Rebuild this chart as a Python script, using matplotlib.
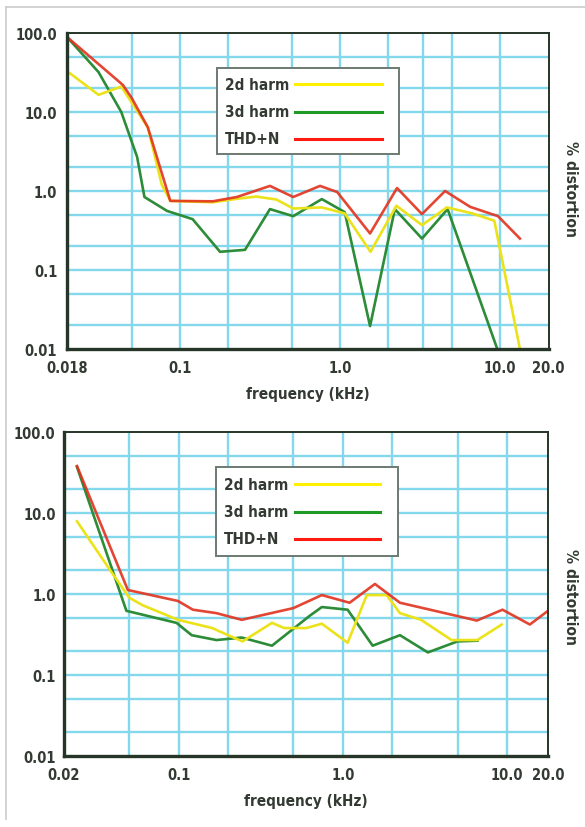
import matplotlib
matplotlib.use("Agg")
import matplotlib.pyplot as plt
from matplotlib.lines import Line2D
from matplotlib.patches import Rectangle

# ---------------- data ----------------
legend_labels = ["2d harm", "3d harm", "THD+N"]

# top panel
f_top_2d = [0.0205, 0.031, 0.043, 0.063, 0.077, 0.087, 0.16, 0.23, 0.30, 0.40, 0.51, 0.77, 1.07, 1.55, 2.25, 3.25, 4.65, 6.7, 9.2, 13.3]
v_top_2d = [31, 16.5, 21, 6.4, 1.2, 0.75, 0.72, 0.8, 0.85, 0.78, 0.6, 0.62, 0.52, 0.17, 0.65, 0.37, 0.62, 0.52, 0.42, 0.01]

f_top_3d = [0.0197, 0.031, 0.043, 0.054, 0.060, 0.083, 0.12, 0.178, 0.255, 0.365, 0.51, 0.77, 1.07, 1.54, 2.2, 3.25, 4.7, 9.6]
v_top_3d = [89, 32, 10, 2.7, 0.84, 0.56, 0.44, 0.17, 0.18, 0.59, 0.48, 0.79, 0.54, 0.0195, 0.59, 0.25, 0.59, 0.01]

f_top_thd = [0.0197, 0.044, 0.05, 0.063, 0.087, 0.16, 0.227, 0.365, 0.51, 0.75, 0.96, 1.54, 2.27, 3.25, 4.53, 6.5, 9.7, 13.3]
v_top_thd = [89, 22, 15, 6.4, 0.75, 0.74, 0.84, 1.16, 0.84, 1.16, 0.97, 0.29, 1.09, 0.51, 1.0, 0.63, 0.48, 0.25]

# bottom panel
f_bot_2d = [0.024, 0.038, 0.05, 0.06, 0.099, 0.16, 0.2, 0.245, 0.37, 0.44, 0.6, 0.745, 1.07, 1.4, 1.85, 2.23, 3.0, 4.6, 6.6, 9.3]
v_bot_2d = [7.9, 2.0, 0.9, 0.73, 0.48, 0.38, 0.31, 0.26, 0.44, 0.38, 0.38, 0.43, 0.25, 0.97, 0.97, 0.58, 0.48, 0.27, 0.27, 0.42]

f_bot_3d = [0.024, 0.048, 0.097, 0.12, 0.17, 0.242, 0.37, 0.63, 0.745, 1.07, 1.52, 2.23, 3.3, 5.0, 6.6]
v_bot_3d = [37, 0.62, 0.44, 0.31, 0.27, 0.29, 0.23, 0.54, 0.69, 0.64, 0.23, 0.31, 0.19, 0.26, 0.265]

f_bot_thd = [0.024, 0.049, 0.099, 0.122, 0.17, 0.242, 0.50, 0.745, 1.1, 1.57, 2.23, 6.56, 9.4, 13.8, 17.8]
v_bot_thd = [38, 1.12, 0.82, 0.64, 0.58, 0.48, 0.67, 0.97, 0.78, 1.33, 0.78, 0.47, 0.64, 0.42, 0.62]

y_ticks = [0.01, 0.1, 1, 10, 100]
y_ticklabels = ["0.01", "0.1", "1.0", "10.0", "100.0"]
y_grid = [0.02, 0.05, 0.1, 0.2, 0.5, 1, 2, 5, 10, 20, 50]

top_xlim = (0.0197, 20.2)
top_xticks = [0.0197, 0.1, 1, 10, 20]
top_xticklabels = ["0.018", "0.1", "1.0", "10.0", "20.0"]
top_xgrid = [0.05, 0.1, 0.2, 0.5, 1, 2, 3.3, 5, 10]

bot_xlim = (0.02, 17.8)
bot_xticks = [0.02, 0.1, 1, 10, 17.8]
bot_xticklabels = ["0.02", "0.1", "1.0", "10.0", "20.0"]
bot_xgrid = [0.05, 0.1, 0.2, 0.5, 1, 2, 5, 10]

# ---------------- style ----------------
plt.rcParams["font.family"] = ["DejaVu Sans"]
plt.rcParams["font.stretch"] = "condensed"
plt.rcParams["font.weight"] = "bold"
TXT = "#333a33"
GRID = "#84d8ec"
SPINE = "#253528"
C2 = "#ece21a"
C3 = "#2c8c38"
CT = "#e2321e"
LC2 = "#fff000"
LC3 = "#1f9a26"
LCT = "#ff1a10"

W, H = 585, 828
fig = plt.figure(figsize=(W / 100, H / 100), dpi=100)
fig.patch.set_facecolor("white")


def px_axes(l, t, r, b):
    return fig.add_axes([l / W, 1 - b / H, (r - l) / W, (b - t) / H])


def setup(ax, xlim, xticks, xticklabels, xgrid, pady):
    ax.set_xscale("log")
    ax.set_yscale("log")
    ax.set_xlim(*xlim)
    ax.set_ylim(0.01, 100)
    ax.set_facecolor("white")
    for g in y_grid:
        ax.axhline(g, color=GRID, lw=1.7, zorder=1)
    for g in xgrid:
        ax.axvline(g, color=GRID, lw=1.7, zorder=1)
    ax.minorticks_off()
    ax.set_yticks(y_ticks)
    ax.set_yticklabels(y_ticklabels)
    ax.set_xticks(xticks)
    ax.set_xticklabels(xticklabels)
    ax.tick_params(length=0, labelsize=10.5, colors=TXT, pad=pady)
    ax.tick_params(axis="x", pad=8)
    for lab in ax.get_xticklabels() + ax.get_yticklabels():
        lab.set_fontweight("bold")
        lab.set_fontstretch("condensed")
    for side, lw in (("left", 2.4), ("bottom", 2.4), ("top", 1.4), ("right", 1.4)):
        ax.spines[side].set_color(SPINE)
        ax.spines[side].set_linewidth(lw)
        ax.spines[side].set_zorder(5)
    ax.set_xlabel("frequency (kHz)", fontsize=11, fontweight="bold", color=TXT,
                  labelpad=8, fontstretch="condensed")


def draw_legend(l, t, r, b, rows_y, line_x0, line_x1, text_x):
    fig.patches.append(Rectangle((l / W, 1 - b / H), (r - l) / W, (b - t) / H,
                                 transform=fig.transFigure, facecolor="white",
                                 edgecolor="#6c7a72", lw=1.4, zorder=10))
    for lab, yy, col in zip(legend_labels, rows_y, (LC2, LC3, LCT)):
        fig.text(text_x / W, 1 - yy / H, lab, fontsize=11, fontweight="bold",
                 fontstretch="condensed", color=TXT, va="center", ha="left", zorder=11)
        fig.add_artist(Line2D([line_x0 / W, line_x1 / W], [1 - yy / H, 1 - yy / H],
                              color=col, lw=2.2, transform=fig.transFigure, zorder=11))


# top panel
ax1 = px_axes(67, 34, 549, 350)
setup(ax1, top_xlim, top_xticks, top_xticklabels, top_xgrid, 7)
ax1.plot(f_top_3d, v_top_3d, color=C3, lw=1.9, zorder=3)
ax1.plot(f_top_2d, v_top_2d, color=C2, lw=1.9, zorder=4)
ax1.plot(f_top_thd, v_top_thd, color=CT, lw=1.9, zorder=4.5, alpha=0.9)
fig.text(571 / W, 1 - 189 / H, "% distortion", rotation=270, fontsize=11.2,
         fontweight="bold", fontstretch="condensed", color=TXT, ha="center", va="center")
draw_legend(217, 69, 399, 155, (85, 113, 140), 295, 382, 225)

# bottom panel
ax2 = px_axes(64, 433, 548, 757)
setup(ax2, bot_xlim, bot_xticks, bot_xticklabels, bot_xgrid, 6)
ax2.plot(f_bot_3d, v_bot_3d, color=C3, lw=1.9, zorder=3)
ax2.plot(f_bot_2d, v_bot_2d, color=C2, lw=1.9, zorder=4)
ax2.plot(f_bot_thd, v_bot_thd, color=CT, lw=1.9, zorder=4.5, alpha=0.9)
fig.text(571 / W, 1 - 597 / H, "% distortion", rotation=270, fontsize=11.2,
         fontweight="bold", fontstretch="condensed", color=TXT, ha="center", va="center")
draw_legend(216, 468, 398, 557, (485, 513, 540), 295, 380, 224)

# faint scan frame
fig.add_artist(Line2D([6 / W, 6 / W], [1 - 8 / H, 1 - 820 / H], color="#c9cdc9", lw=1.2,
                      transform=fig.transFigure))
fig.add_artist(Line2D([6 / W, 1.0], [1 - 8 / H, 1 - 8 / H], color="#c9cdc9", lw=1.2,
                      transform=fig.transFigure))

fig.savefig("out.png", dpi=100, facecolor="white")
